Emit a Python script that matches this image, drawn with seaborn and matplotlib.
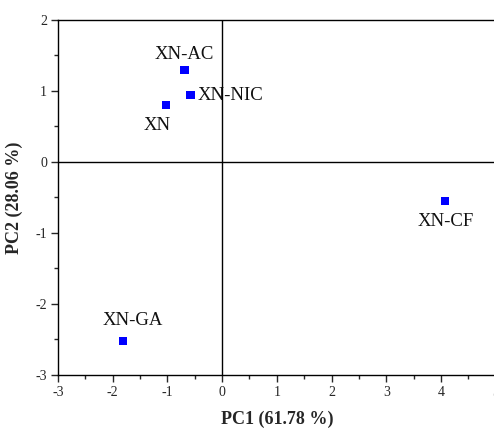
import matplotlib
matplotlib.use("Agg")
import matplotlib.pyplot as plt
import seaborn as sns
import pandas as pd
from matplotlib.ticker import MultipleLocator

samples = ["XN", "XN-AC", "XN-NIC", "XN-CF", "XN-GA"]
pc1 = [-1.02, -0.69, -0.58, 4.08, -1.81]
pc2 = [0.80, 1.30, 0.94, -0.55, -2.52]
x_ticks = [-3, -2, -1, 0, 1, 2, 3, 4, 5]
y_ticks = [-3, -2, -1, 0, 1, 2]

df = pd.DataFrame({"sample": samples, "PC1": pc1, "PC2": pc2})

sns.set_style("ticks")
plt.rcParams["font.family"] = ["Liberation Serif", "DejaVu Serif"]

fig = plt.figure(figsize=(4.94, 4.28), dpi=100)
ax = fig.add_axes([58 / 494, 1 - 375 / 428, (495.6 - 58) / 494, (375 - 20) / 428])

sns.scatterplot(data=df, x="PC1", y="PC2", ax=ax, marker="s", color="#0000ff",
                s=36, edgecolor="none", zorder=3, legend=False)

ax.set_xlim(-3, 5)
ax.set_ylim(-3, 2)
ax.set_xticks(x_ticks)
ax.set_yticks(y_ticks)
ax.set_xticklabels([str(t) for t in x_ticks])
ax.set_yticklabels([str(t) for t in y_ticks])
ax.xaxis.set_minor_locator(MultipleLocator(0.5))
ax.yaxis.set_minor_locator(MultipleLocator(0.5))
ax.tick_params(which="major", direction="out", length=5, width=1, labelsize=10, pad=3)
ax.tick_params(which="minor", direction="out", length=3, width=1)

for s in ["left", "bottom", "top"]:
    ax.spines[s].set_visible(True)
    ax.spines[s].set_linewidth(1)
    ax.spines[s].set_color("black")
ax.spines["right"].set_visible(False)

ax.axhline(0, color="black", lw=1, zorder=1)
ax.axvline(0, color="black", lw=1, zorder=1)

offsets = {
    "XN": (-6.5, -14.5, "center", "center"),
    "XN-AC": (0, 11, "center", "center"),
    "XN-NIC": (5, 0, "left", "center"),
    "XN-CF": (0, -15, "center", "center"),
    "XN-GA": (7, 14.5, "center", "center"),
}
for name, x, y in zip(samples, pc1, pc2):
    dx, dy, ha, va = offsets[name]
    ax.annotate(name, (x, y), xytext=(dx, dy), textcoords="offset points",
                ha=ha, va=va, fontsize=13.5, color="#111111")

ax.set_xlabel("PC1 (61.78 %)", fontsize=13, fontweight="bold", labelpad=8)
ax.set_ylabel("PC2 (28.06 %)", fontsize=13, fontweight="bold", labelpad=9)

fig.savefig("out.png", dpi=100)
